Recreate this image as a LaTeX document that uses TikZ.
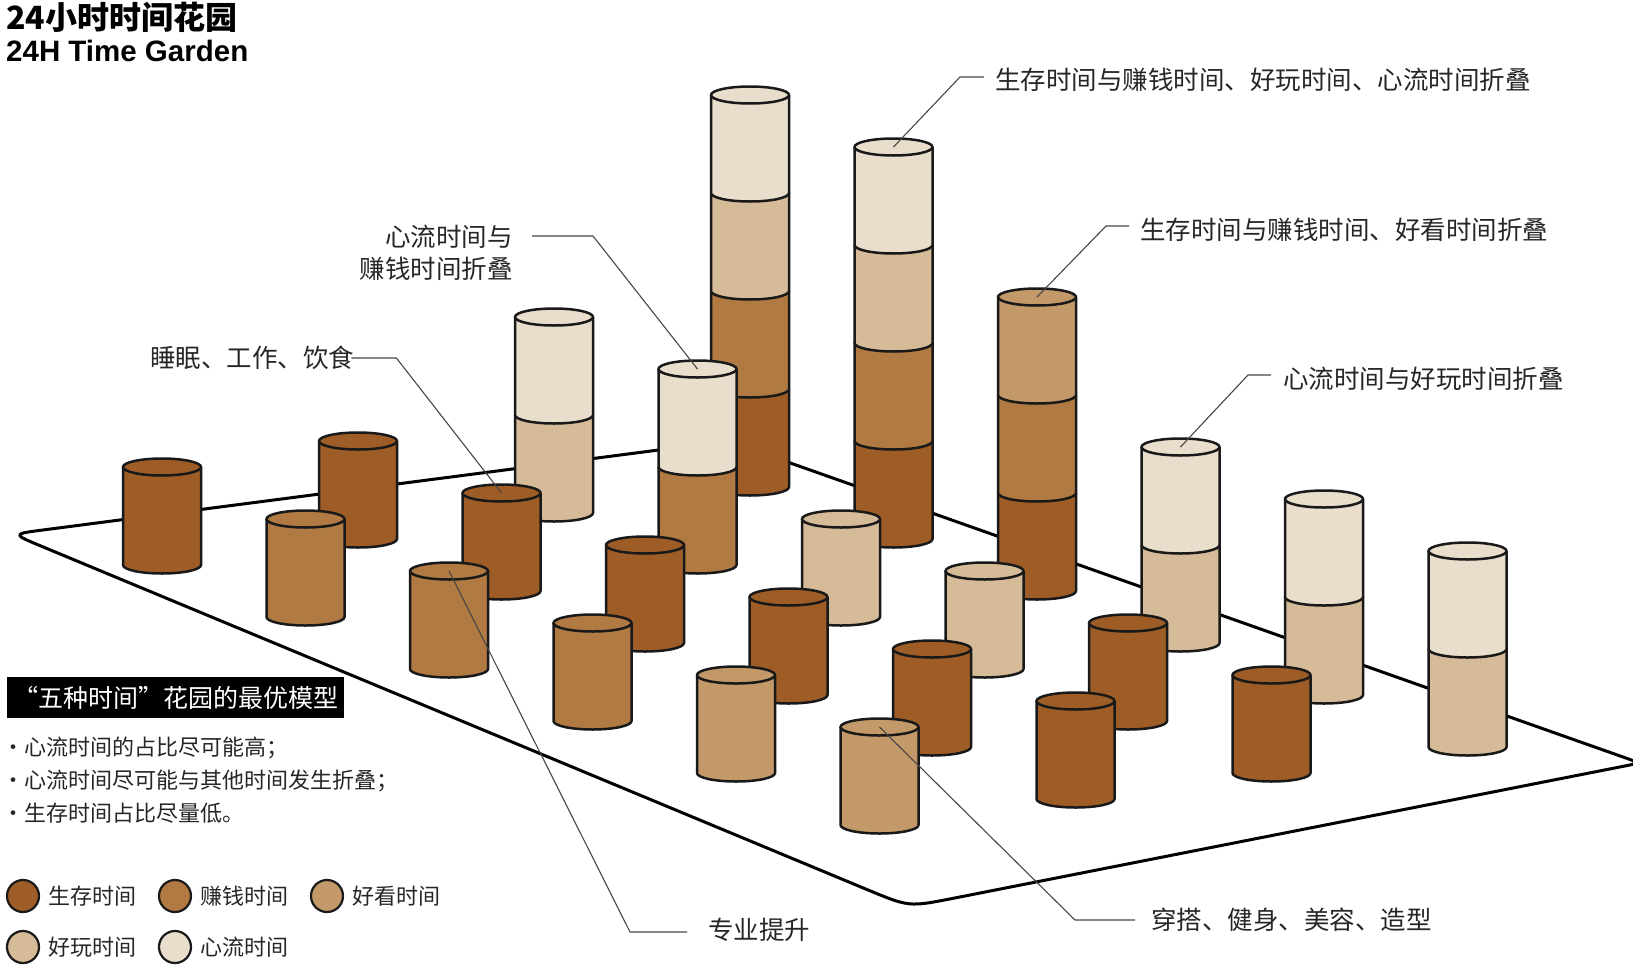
\documentclass[tikz,border=0pt]{standalone}
\usepackage{fontspec}
\setmainfont{Noto Sans CJK SC}
\newfontfamily\latinfont{Liberation Sans}
\usetikzlibrary{calc}
\definecolor{survcol}{RGB}{158,93,39}
\definecolor{earncol}{RGB}{176,122,66}
\definecolor{lookcol}{RGB}{196,153,106}
\definecolor{playcol}{RGB}{214,187,152}
\definecolor{flowcol}{RGB}{233,221,204}
\definecolor{leadcol}{RGB}{70,70,70}

% one stack of time cylinders on grid cell (#1,#2), colours from the bottom up
\newcommand{\timestack}[3]{%
  \pgfmathsetmacro{\stackx}{162+196*#1+143.5*#2}%
  \pgfmathsetmacro{\stacky}{565-26*#1+52*#2}%
  \foreach \tint [count=\seg] in {#3}{%
    \pgfmathsetmacro{\segbot}{\stacky-98*(\seg-1)}%
    \pgfmathsetmacro{\segtop}{\stacky-98*\seg}%
    \fill[\tint] (\stackx-39,\segtop) -- (\stackx-39,\segbot)
      arc[start angle=180, end angle=0, x radius=39, y radius=8.5]
      -- (\stackx+39,\segtop) -- cycle;
    \draw[cyl] (\stackx-39,\segtop) -- (\stackx-39,\segbot)
      arc[start angle=180, end angle=0, x radius=39, y radius=8.5]
      -- (\stackx+39,\segtop);
    \xdef\toptint{\tint}\xdef\topy{\segtop}%
  }%
  \filldraw[cyl, fill=\toptint] (\stackx,\topy) ellipse[x radius=39, y radius=8.5];
  \coordinate (top#1#2) at (\stackx,\topy);
}

\begin{document}
\begin{tikzpicture}[x=1pt, y=-1pt,
    cyl/.style={draw=black!90, line width=2.5pt, line join=round},
    platform/.style={draw=black, line width=3pt, fill=white, line join=round},
    noteline/.style={draw=leadcol, line width=1.1pt},
    notetext/.style={anchor=west, inner sep=0pt, text=black!85, font=\fontsize{25.5}{32}\selectfont}]
    \useasboundingbox (0,0) rectangle (1633,964);

    % Title
    \node[anchor=west, inner sep=0pt, font=\bfseries\fontsize{32}{32}\selectfont] (title) at (6,17) {24小时时间花园};
    \node[anchor=west, inner sep=0pt, font=\latinfont\bfseries\fontsize{29.5}{29.5}\selectfont] (subtitle) at (6,51) {24H Time Garden};

    % Platform, corners rounded by hand
    \coordinate (L) at (12,534);
    \coordinate (B) at (728,441);
    \coordinate (R) at (1640,763);
    \coordinate (F) at (909,907);
    \draw[platform] ($(L)!32pt!(B)$) -- ($(B)!12pt!(L)$) .. controls (B) .. ($(B)!12pt!(R)$)
        -- ($(R)!16pt!(B)$) .. controls (R) .. ($(R)!16pt!(F)$)
        -- ($(F)!45pt!(R)$) .. controls (F) .. ($(F)!45pt!(L)$)
        -- ($(L)!32pt!(F)$) .. controls (L) .. ($(L)!32pt!(B)$) -- cycle;

    % Cylinders, back rows first
    \timestack{3}{0}{survcol,earncol,playcol,flowcol}
    \timestack{3}{1}{survcol,earncol,playcol,flowcol}
    \timestack{3}{2}{survcol,earncol,lookcol}
    \timestack{3}{3}{playcol,flowcol}
    \timestack{3}{4}{playcol,flowcol}
    \timestack{3}{5}{playcol,flowcol}
    \timestack{2}{0}{playcol,flowcol}
    \timestack{2}{1}{earncol,flowcol}
    \timestack{2}{2}{playcol}
    \timestack{2}{3}{playcol}
    \timestack{2}{4}{survcol}
    \timestack{2}{5}{survcol}
    \timestack{1}{0}{survcol}
    \timestack{1}{1}{survcol}
    \timestack{1}{2}{survcol}
    \timestack{1}{3}{survcol}
    \timestack{1}{4}{survcol}
    \timestack{1}{5}{survcol}
    \timestack{0}{0}{survcol}
    \timestack{0}{1}{earncol}
    \timestack{0}{2}{earncol}
    \timestack{0}{3}{earncol}
    \timestack{0}{4}{lookcol}
    \timestack{0}{5}{lookcol}

    % Notes and leader lines
    \node[notetext] (fold4) at (995,80) {生存时间与赚钱时间、好玩时间、心流时间折叠};
    \draw[noteline] (top31) -- ($(fold4.west)+(-35,-3)$) -- ($(fold4.west)+(-11,-3)$);
    \node[notetext] (fold3) at (1140,230) {生存时间与赚钱时间、好看时间折叠};
    \draw[noteline] (top32) -- ($(fold3.west)+(-34,-4)$) -- ($(fold3.west)+(-11,-4)$);
    \node[notetext] (foldplay) at (1283,379) {心流时间与好玩时间折叠};
    \draw[noteline] (top33) -- ($(foldplay.west)+(-35,-4)$) -- ($(foldplay.west)+(-12,-4)$);
    \node[notetext, anchor=north east, align=right] (foldearn) at (513,225) {心流时间与\\赚钱时间折叠};
    \draw[noteline] ($(foldearn.north east)+(19,11)$) -- ($(foldearn.north east)+(80,11)$) -- (top21);
    \node[notetext] (basic) at (150,358) {睡眠、工作、饮食};
    \draw[noteline] ($(basic.east)+(-3,0)$) -- ($(basic.east)+(42,0)$) -- (top11);
    \node[notetext] (skill) at (708,930) {专业提升};
    \draw[noteline] (top02) -- ($(skill.west)+(-78,2)$) -- ($(skill.west)+(-21,2)$);
    \node[notetext] (looks) at (1151,920) {穿搭、健身、美容、造型};
    \draw[noteline] (top05) -- ($(looks.west)+(-76,0)$) -- ($(looks.west)+(-16,0)$);

    % Model box and rules
    \node[fill=black, text=white, anchor=west, inner xsep=6pt, minimum height=41pt, font=\fontsize{25}{25}\selectfont] (modelbox) at (7,697.5) {“五种时间”花园的最优模型};
    \node[anchor=north west, inner sep=0pt, align=left, text=black!85, font=\fontsize{22}{33}\selectfont] (rules) at (2,737) {·心流时间的占比尽可能高；\\·心流时间尽可能与其他时间发生折叠；\\·生存时间占比尽量低。};

    % Legend
    \foreach \tint/\keyname/\kx/\ky in {survcol/生存时间/23/896, earncol/赚钱时间/175/896, lookcol/好看时间/327/896, playcol/好玩时间/23/947, flowcol/心流时间/175/947}{
        \filldraw[draw=black!90, line width=2.2pt, fill=\tint] (\kx,\ky) circle (16);
        \node[anchor=west, inner sep=0pt, text=black!85, font=\fontsize{22}{22}\selectfont] (key\tint) at (\kx+25,\ky) {\keyname};
    }
\end{tikzpicture}
\end{document}
